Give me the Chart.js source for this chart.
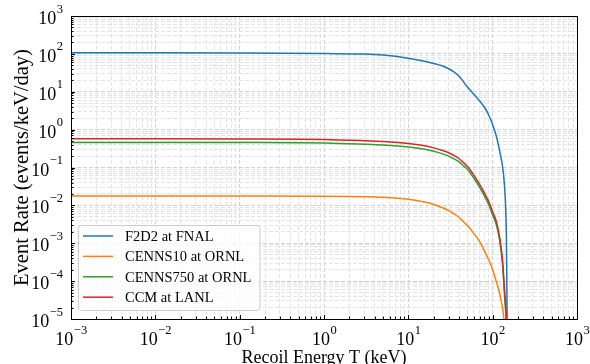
<!DOCTYPE html>
<html>
<head>
<meta charset="utf-8">
<script src="https://cdn.jsdelivr.net/npm/chart.js@4/dist/chart.umd.min.js"></script>
<style>
  html, body { margin: 0; padding: 0; background: #ffffff; }
  #wrap { width: 590px; height: 364px; position: relative; }
</style>
</head>
<body>
<div id="wrap"><canvas id="c" width="590" height="364"></canvas></div>
<script>
// ---- data ----
const recoilEnergy = [0.001, 0.01, 0.1, 1, 3, 5, 10, 15, 20, 25, 30, 35, 40, 45, 48, 52, 60, 70, 80, 90, 100, 110, 120, 125, 130, 133, 136, 139, 142, 144, 146, 148, 150];

const f2d2Fnal = [107, 107, 106, 102, 99, 93, 77, 65, 56, 48.5, 40.5, 33, 25.5, 18.5, 15, 12.2, 8.5, 5.7, 3.9, 2.4, 1.35, 0.7, 0.3, 0.19, 0.12, 0.08, 0.05, 0.027, 0.011, 0.0045, 0.0009, 0.00002, 0.0000001];

const cenns10Ornl = [0.0178, 0.0178, 0.0177, 0.0175, 0.017, 0.0164, 0.0145, 0.0124, 0.0106, 0.0088, 0.0073, 0.006, 0.0048, 0.0037, 0.0032, 0.0027, 0.0018, 0.0011, 0.00062, 0.00036, 0.0002, 0.0001, 0.000051, 0.000034, 0.000021, 0.000015, 0.0000095, 0.000003, null, null, null, null, null];

const cenns750Ornl = [0.46, 0.46, 0.457, 0.445, 0.412, 0.392, 0.348, 0.308, 0.268, 0.232, 0.2, 0.168, 0.14, 0.112, 0.098, 0.081, 0.052, 0.03, 0.0175, 0.0104, 0.0055, 0.0032, 0.0013, 0.00072, 0.00033, 0.00017, 0.000078, 0.000036, 0.000018, 0.000011, 0.000005, 0.0000005, null];

const ccmLanl = [0.57, 0.57, 0.565, 0.55, 0.51, 0.485, 0.43, 0.38, 0.33, 0.285, 0.245, 0.205, 0.17, 0.135, 0.118, 0.097, 0.062, 0.036, 0.021, 0.0125, 0.0067, 0.0039, 0.0016, 0.0009, 0.00042, 0.00022, 0.0001, 0.000048, 0.000025, 0.000016, 0.000009, 0.000002, null];

const seriesLabels = ['F2D2 at FNAL', 'CENNS10 at ORNL', 'CENNS750 at ORNL', 'CCM at LANL'];
const seriesColors = ['#1f77b4', '#ff7f0e', '#2ca02c', '#d62728'];

const tickBase = '10';
const xTickExponents = [-3, -2, -1, 0, 1, 2, 3];
const xTickLabels = ['\u22123', '\u22122', '\u22121', '0', '1', '2', '3'];
const yTickExponents = [-5, -4, -3, -2, -1, 0, 1, 2, 3];
const yTickLabels = ['\u22125', '\u22124', '\u22123', '\u22122', '\u22121', '0', '1', '2', '3'];

const xTitle = 'Recoil Energy T (keV)';
const yTitle = 'Event Rate (events/keV/day)';

// ---- helpers ----
const FONT = '"Liberation Serif", "Times New Roman", serif';
function decadeOf(v) {
  const e = Math.round(Math.log10(v));
  return Math.abs(v - Math.pow(10, e)) < 1e-9 * Math.pow(10, e) ? e : null;
}
function logTicks(e0, e1) {
  const t = [];
  for (let e = e0; e < e1; e++) {
    for (let k = 1; k <= 9; k++) t.push({ value: parseFloat((k * Math.pow(10, e)).toPrecision(6)) });
  }
  t.push({ value: Math.pow(10, e1) });
  return t;
}
function toPoints(values) {
  const pts = [];
  values.forEach((v, i) => { if (v !== null) pts.push({ x: recoilEnergy[i], y: v }); });
  return pts;
}
const seriesValues = [f2d2Fnal, cenns10Ornl, cenns750Ornl, ccmLanl];
const drawOrder = [3, 2, 1, 0];

const datasets = seriesValues.map((vals, i) => ({
  label: seriesLabels[i],
  data: toPoints(vals),
  borderColor: seriesColors[i],
  backgroundColor: seriesColors[i],
  showLine: true,
  fill: false,
  borderWidth: 1.5,
  pointRadius: 0,
  cubicInterpolationMode: 'monotone',
  order: drawOrder[i]
}));

const gridColor = (ctx) => (ctx.tick && decadeOf(ctx.tick.value) !== null) ? '#d2d2d2' : '#e4e4e4';

// ---- plugins ----
const axesFrame = {
  id: 'axesFrame',
  afterDatasetsDraw(chart) {
    const { ctx, chartArea: ca, scales } = chart;
    const xs = scales.x, ys = scales.y;
    ctx.save();
    ctx.strokeStyle = '#000';
    ctx.lineWidth = 1;
    ctx.beginPath();
    xs.ticks.forEach(t => {
      const px = Math.round(xs.getPixelForValue(t.value)) + 0.5;
      const len = decadeOf(t.value) !== null ? 4 : 2.5;
      ctx.moveTo(px, ca.bottom);
      ctx.lineTo(px, ca.bottom - len);
    });
    ys.ticks.forEach(t => {
      const py = Math.round(ys.getPixelForValue(t.value)) + 0.5;
      const len = decadeOf(t.value) !== null ? 4 : 2.5;
      ctx.moveTo(ca.left, py);
      ctx.lineTo(ca.left + len, py);
    });
    ctx.stroke();
    ctx.strokeRect(Math.round(ca.left) + 0.5, Math.round(ca.top) + 0.5,
      Math.round(ca.right - ca.left), Math.round(ca.bottom - ca.top));
    ctx.restore();
  }
};

// power-of-ten tick labels, drawn at the scales' own tick positions
const powerTickLabels = {
  id: 'powerTickLabels',
  afterDraw(chart) {
    const { ctx, chartArea: ca, scales } = chart;
    const baseFont = '18px ' + FONT, expFont = '12.5px ' + FONT;
    ctx.save();
    ctx.fillStyle = '#000';
    ctx.textAlign = 'left';
    ctx.textBaseline = 'alphabetic';
    const widths = (exp) => {
      ctx.font = baseFont; const wb = ctx.measureText(tickBase).width;
      ctx.font = expFont; const we = ctx.measureText(exp).width;
      return [wb, we];
    };
    const draw = (exp, left, baseline) => {
      const [wb] = widths(exp);
      ctx.font = baseFont; ctx.fillText(tickBase, left, baseline);
      ctx.font = expFont; ctx.fillText(exp, left + wb + 0.5, baseline - 11.5);
    };
    xTickExponents.forEach((e, i) => {
      const px = scales.x.getPixelForValue(Math.pow(10, e));
      const [wb, we] = widths(xTickLabels[i]);
      draw(xTickLabels[i], px - (wb + we) / 2, ca.bottom + 26);
    });
    yTickExponents.forEach((e, i) => {
      const py = scales.y.getPixelForValue(Math.pow(10, e));
      const [wb, we] = widths(yTickLabels[i]);
      draw(yTickLabels[i], ca.left - 8 - (wb + we + 0.5), py + 8);
    });
    ctx.restore();
  }
};

const insetLegend = {
  id: 'insetLegend',
  afterDraw(chart) {
    const { ctx, chartArea: ca } = chart;
    const ds = chart.data.datasets;
    ctx.save();
    ctx.font = '14.5px ' + FONT;
    let maxW = 0;
    ds.forEach(d => { maxW = Math.max(maxW, ctx.measureText(d.label).width); });
    const rowH = 20.4;
    const boxL = Math.round(ca.left) + 7;
    const boxB = Math.round(ca.bottom) - 9;
    const boxH = rowH * ds.length + 3.4;
    const boxT = boxB - boxH;
    const boxW = 47 + maxW + 8;
    ctx.beginPath();
    if (ctx.roundRect) ctx.roundRect(boxL + 0.5, boxT + 0.5, boxW, boxH, 3);
    else ctx.rect(boxL + 0.5, boxT + 0.5, boxW, boxH);
    ctx.fillStyle = 'rgba(255,255,255,0.8)';
    ctx.fill();
    ctx.strokeStyle = '#cccccc';
    ctx.lineWidth = 1;
    ctx.stroke();
    ds.forEach((d, i) => {
      const y = boxT + 11 + i * rowH;
      ctx.strokeStyle = d.borderColor;
      ctx.lineWidth = 1.5;
      ctx.beginPath();
      ctx.moveTo(boxL + 5, y);
      ctx.lineTo(boxL + 35, y);
      ctx.stroke();
      ctx.fillStyle = '#000';
      ctx.textBaseline = 'middle';
      ctx.textAlign = 'left';
      ctx.fillText(d.label, boxL + 47, y + 1);
    });
    ctx.restore();
  }
};

// ---- chart ----
new Chart(document.getElementById('c'), {
  type: 'scatter',
  data: { datasets },
  plugins: [axesFrame, powerTickLabels, insetLegend],
  options: {
    responsive: false,
    animation: false,
    devicePixelRatio: 1,
    layout: { padding: { top: 16, right: 13, left: 0, bottom: 0 } },
    plugins: { legend: { display: false }, tooltip: { enabled: false } },
    scales: {
      x: {
        type: 'logarithmic',
        position: 'bottom',
        min: 1e-3,
        max: 1e3,
        afterBuildTicks: (s) => { s.ticks = logTicks(xTickExponents[0], xTickExponents[xTickExponents.length - 1]); },
        afterFit: (s) => { s.height = 45; s.paddingLeft = 0; s.paddingRight = 0; },
        ticks: { display: false, autoSkip: false, maxRotation: 0 },
        grid: { color: gridColor, lineWidth: 1, drawTicks: false },
        border: { display: false, dash: [4, 2] },
        title: { display: true, text: xTitle, color: '#000', font: { family: FONT, size: 18, lineHeight: 0.667 }, padding: 0 }
      },
      y: {
        type: 'logarithmic',
        position: 'left',
        min: 1e-5,
        max: 1e3,
        afterBuildTicks: (s) => { s.ticks = logTicks(yTickExponents[0], yTickExponents[yTickExponents.length - 1]); },
        afterFit: (s) => { s.width = 71; s.paddingTop = 0; s.paddingBottom = 0; },
        ticks: { display: false, autoSkip: false },
        grid: { color: gridColor, lineWidth: 1, drawTicks: false },
        border: { display: false, dash: [4, 2] },
        title: { display: true, text: yTitle, color: '#000', font: { family: FONT, size: 20.5 }, padding: { top: 10, bottom: 0 } }
      }
    }
  }
});
</script>
</body>
</html>
